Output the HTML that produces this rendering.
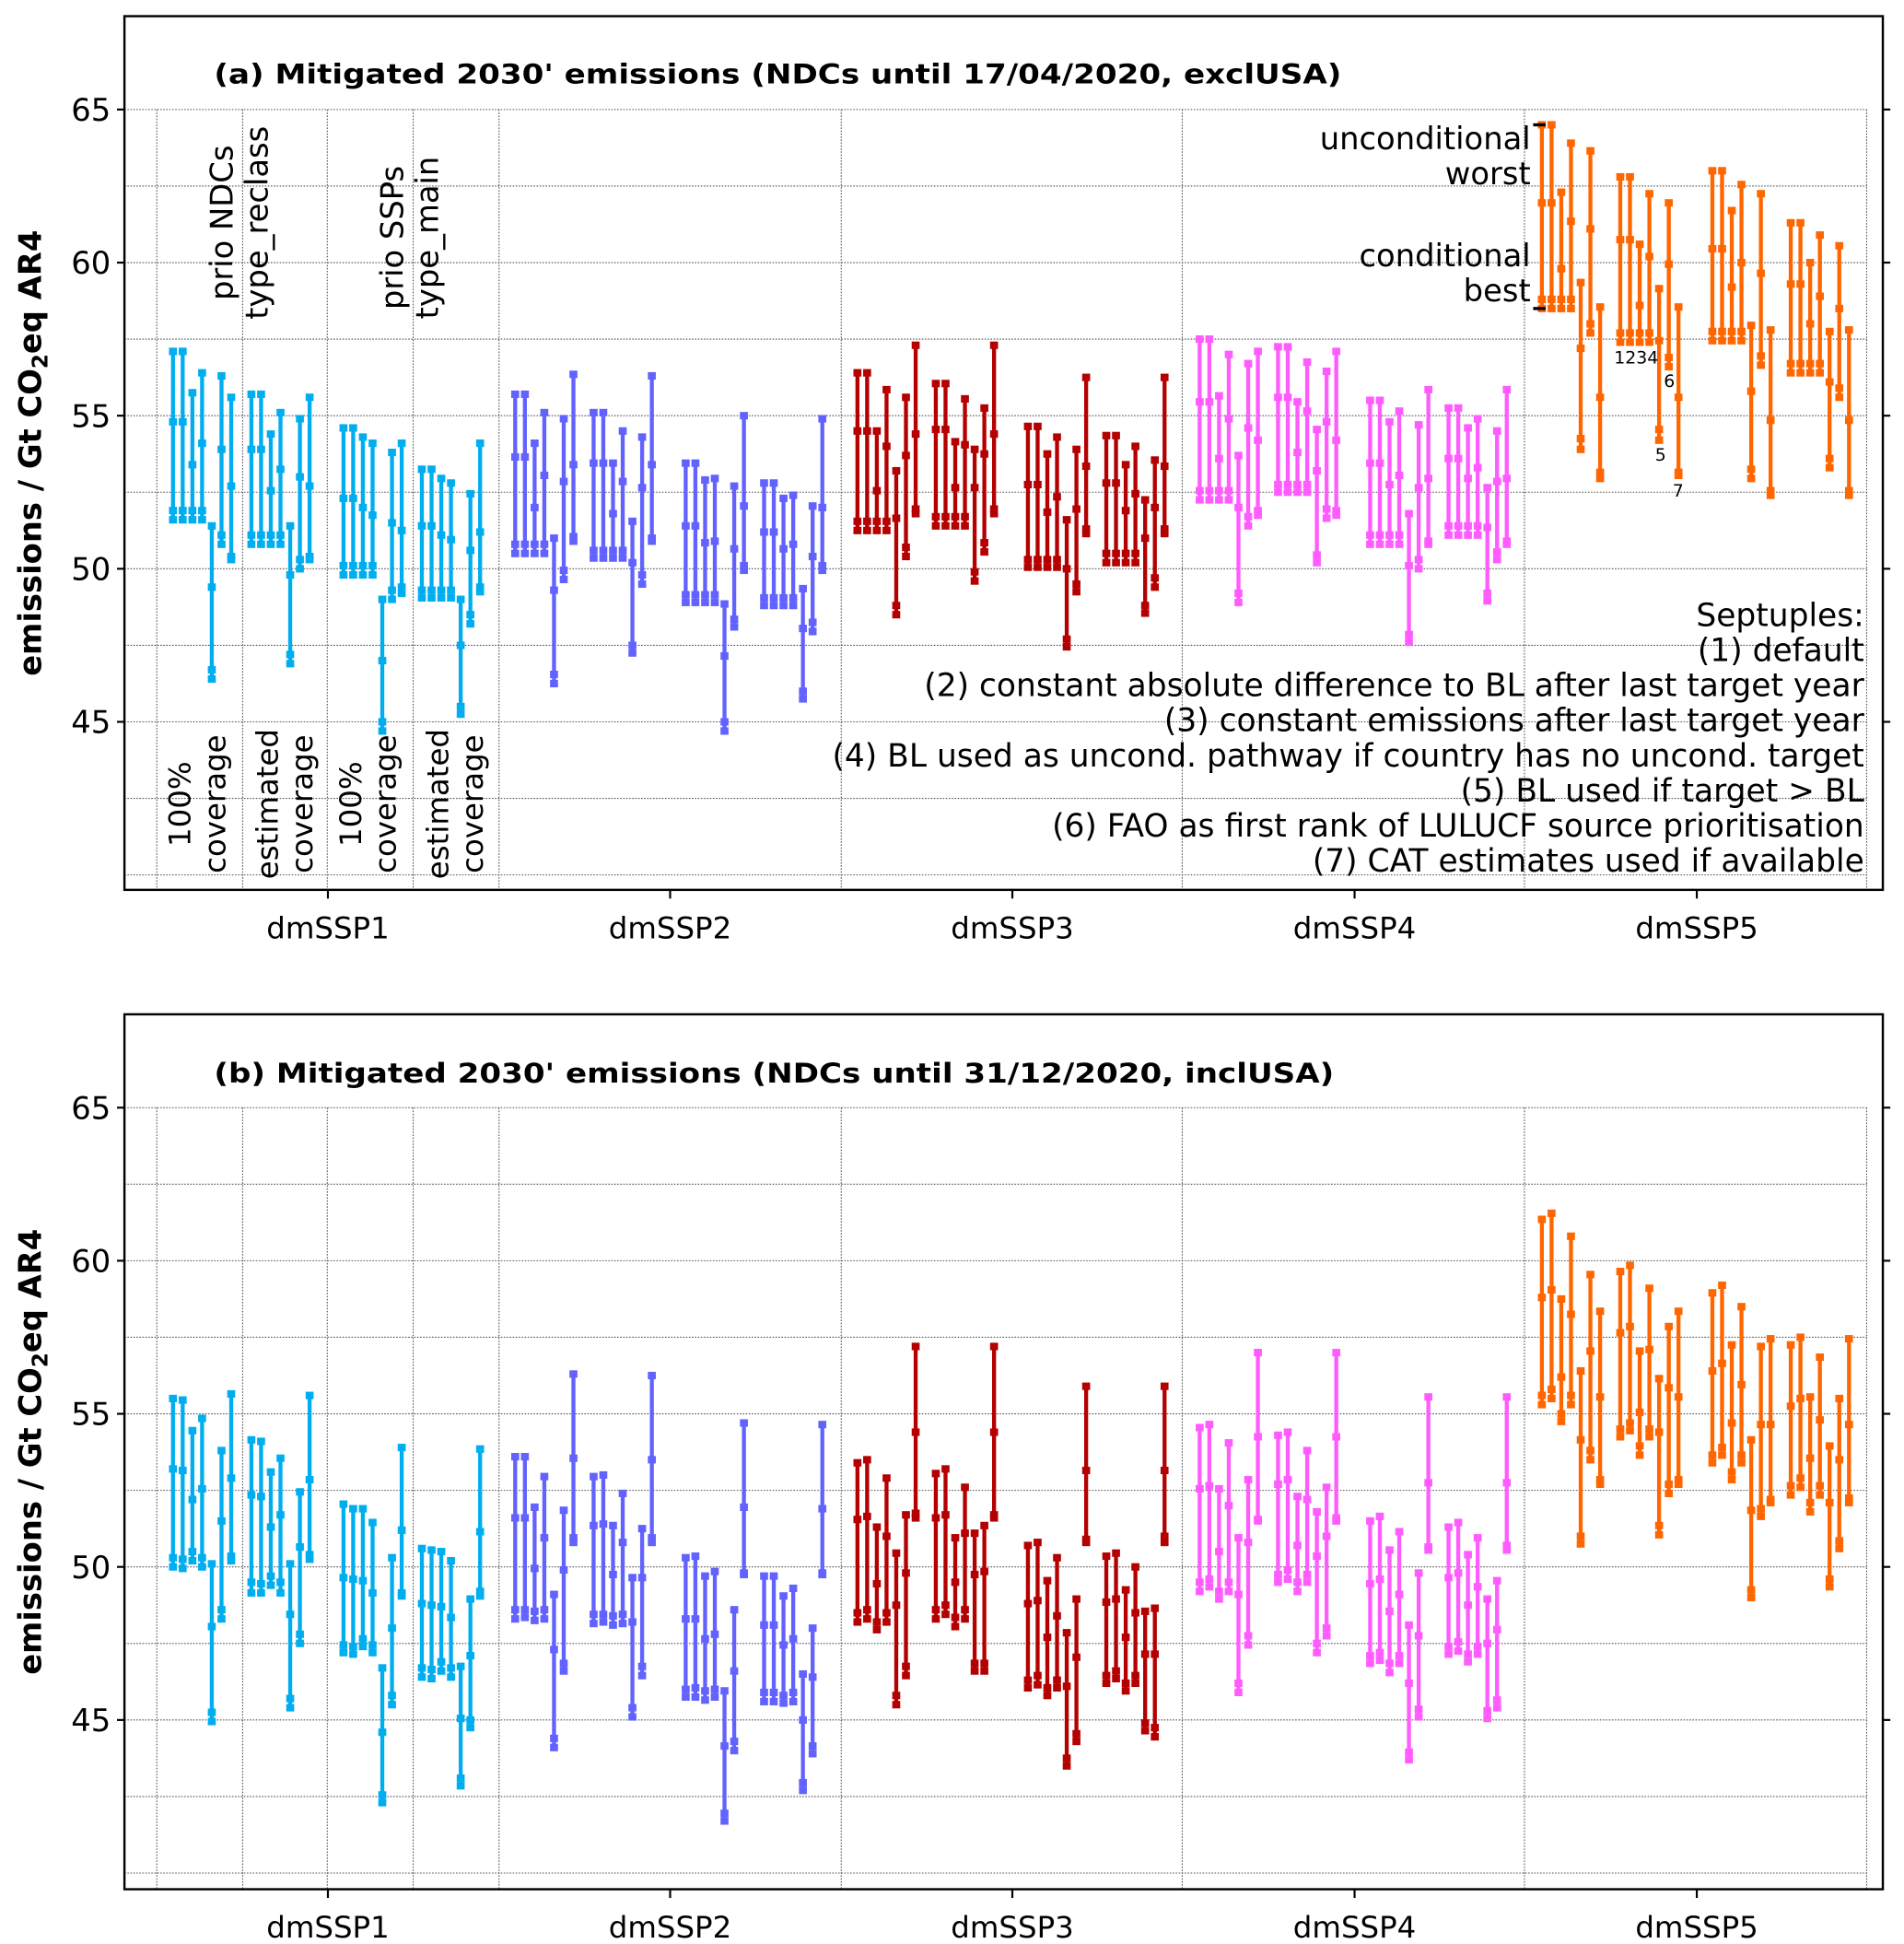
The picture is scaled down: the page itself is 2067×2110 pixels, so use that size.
<!DOCTYPE html>
<html><head><meta charset="utf-8"><style>
html,body{margin:0;padding:0;background:#fff;}
svg{display:block;}
text{font-family:"DejaVu Sans","Liberation Sans",sans-serif;fill:#000;}
</style></head><body>
<svg id="chart" xmlns="http://www.w3.org/2000/svg" width="2067" height="2110" viewBox="0 0 1530 1562" preserveAspectRatio="none">
<rect x="0" y="0" width="1530" height="1562" fill="#fff"/>
</svg>
<script>
// ---- data (top, mid1, mid2, bottom) per bar, 4 septuples x 7 bars ----
const categories = ["dmSSP1","dmSSP2","dmSSP3","dmSSP4","dmSSP5"];
const yTicks = [65,60,55,50,45];
const aSSP1 = [[57.1,54.8,51.9,51.6],[57.1,54.8,51.9,51.6],[55.75,53.4,51.9,51.6],[56.4,54.1,51.9,51.6],[51.4,49.4,46.7,46.4],[56.3,53.9,51.1,50.8],[55.6,52.7,50.4,50.3],
[55.7,53.9,51.1,50.8],[55.7,53.9,51.1,50.8],[54.4,52.55,51.1,50.8],[55.1,53.25,51.1,50.8],[51.4,49.8,47.2,46.9],[54.9,53.0,50.3,50.0],[55.6,52.7,50.4,50.3],
[54.6,52.3,50.1,49.8],[54.6,52.3,50.1,49.8],[54.3,52.0,50.1,49.8],[54.1,51.75,50.1,49.8],[49.0,47.0,45.0,44.7],[53.8,51.5,49.3,49.0],[54.1,51.25,49.4,49.2],
[53.25,51.4,49.3,49.05],[53.25,51.4,49.3,49.05],[52.95,51.1,49.3,49.05],[52.8,50.95,49.3,49.05],[49.0,47.5,45.5,45.25],[52.45,50.6,48.5,48.2],[54.1,51.2,49.4,49.25]];
const aSSP2 = [[55.7,53.65,50.8,50.5],[55.7,53.65,50.8,50.5],[54.1,52.0,50.8,50.5],[55.1,53.05,50.8,50.5],[51.0,49.3,46.55,46.25],[54.9,52.85,49.95,49.65],[56.35,53.4,51.05,50.9],
[55.1,53.45,50.6,50.35],[55.1,53.45,50.6,50.35],[53.45,51.8,50.6,50.35],[54.5,52.85,50.6,50.35],[51.55,50.2,47.5,47.25],[54.3,52.65,49.8,49.5],[56.3,53.4,51.0,50.9],
[53.45,51.4,49.15,48.9],[53.45,51.4,49.15,48.9],[52.9,50.85,49.15,48.9],[52.95,50.9,49.15,48.9],[48.85,47.15,45.0,44.7],[52.7,50.65,48.35,48.1],[55.0,52.05,50.1,49.95],
[52.8,51.2,49.05,48.8],[52.8,51.2,49.05,48.8],[52.3,50.65,49.05,48.8],[52.4,50.8,49.05,48.8],[49.35,48.05,46.0,45.75],[52.05,50.4,48.25,47.95],[54.9,52.0,50.1,49.95]];
const aSSP3 = [[56.4,54.5,51.55,51.25],[56.4,54.5,51.55,51.25],[54.5,52.55,51.55,51.25],[55.85,54.0,51.55,51.25],[53.2,51.65,48.8,48.5],[55.6,53.7,50.7,50.4],[57.3,54.4,51.95,51.8],
[56.05,54.55,51.7,51.4],[56.05,54.55,51.7,51.4],[54.15,52.65,51.7,51.4],[55.55,54.05,51.7,51.4],[53.9,52.65,49.9,49.6],[55.25,53.75,50.85,50.55],[57.3,54.4,51.95,51.8],
[54.65,52.75,50.3,50.05],[54.65,52.75,50.3,50.05],[53.75,51.85,50.3,50.05],[54.3,52.35,50.3,50.05],[51.6,50.0,47.7,47.45],[53.9,51.95,49.5,49.25],[56.25,53.35,51.3,51.15],
[54.35,52.8,50.5,50.2],[54.35,52.8,50.5,50.2],[53.4,51.9,50.5,50.2],[54.0,52.45,50.5,50.2],[52.25,51.0,48.8,48.55],[53.55,52.0,49.7,49.4],[56.25,53.35,51.3,51.15]];
const aSSP4 = [[57.5,55.45,52.55,52.25],[57.5,55.45,52.55,52.25],[55.65,53.6,52.55,52.25],[57.0,54.9,52.55,52.25],[53.7,52.0,49.2,48.9],[56.7,54.6,51.7,51.4],[57.1,54.2,51.9,51.75],
[57.25,55.6,52.75,52.5],[57.25,55.6,52.75,52.5],[55.45,53.8,52.75,52.5],[56.75,55.15,52.75,52.5],[54.55,53.2,50.45,50.2],[56.45,54.8,51.95,51.65],[57.1,54.2,51.9,51.75],
[55.5,53.45,51.1,50.8],[55.5,53.45,51.1,50.8],[54.8,52.75,51.1,50.8],[55.15,53.05,51.1,50.8],[51.8,50.1,47.85,47.6],[54.7,52.65,50.3,50.0],[55.85,52.95,50.9,50.8],
[55.25,53.6,51.4,51.1],[55.25,53.6,51.4,51.1],[54.6,52.95,51.4,51.1],[54.9,53.3,51.4,51.1],[52.65,51.35,49.2,48.95],[54.5,52.85,50.55,50.3],[55.85,52.95,50.9,50.8]];
const aSSP5 = [[64.5,61.95,58.8,58.5],[64.5,61.95,58.8,58.5],[62.3,59.8,58.8,58.5],[63.9,61.35,58.8,58.5],[59.35,57.2,54.25,53.9],[63.65,61.1,58.0,57.7],[58.55,55.6,53.15,52.95],
[62.8,60.75,57.7,57.4],[62.8,60.75,57.7,57.4],[60.6,58.6,57.7,57.4],[62.25,60.2,57.7,57.4],[59.15,57.45,54.55,54.2],[61.95,59.95,56.9,56.6],[58.55,55.6,53.15,53.05],
[63.0,60.45,57.75,57.45],[63.0,60.45,57.75,57.45],[61.7,59.2,57.75,57.45],[62.55,60.0,57.75,57.45],[57.95,55.8,53.25,52.95],[62.25,59.65,56.95,56.65],[57.8,54.85,52.55,52.4],
[61.3,59.3,56.7,56.4],[61.3,59.3,56.7,56.4],[60.0,58.0,56.7,56.4],[60.9,58.9,56.7,56.4],[57.75,56.1,53.6,53.3],[60.55,58.5,55.9,55.6],[57.8,54.85,52.55,52.4]];
const bSSP1 = [[55.5,53.2,50.3,50.0],[55.45,53.15,50.25,49.95],[54.45,52.2,50.5,50.2],[54.85,52.55,50.3,50.0],[50.1,48.05,45.25,44.95],[53.8,51.5,48.6,48.3],[55.65,52.9,50.35,50.2],
[54.15,52.35,49.5,49.15],[54.1,52.3,49.45,49.15],[53.1,51.3,49.7,49.4],[53.55,51.7,49.5,49.15],[50.1,48.45,45.7,45.4],[52.45,50.65,47.8,47.5],[55.6,52.85,50.4,50.25],
[52.05,49.65,47.45,47.2],[51.9,49.6,47.4,47.15],[51.9,49.55,47.65,47.4],[51.45,49.15,47.45,47.2],[46.7,44.6,42.55,42.3],[50.3,48.0,45.8,45.5],[53.9,51.2,49.15,49.05],
[50.6,48.8,46.7,46.4],[50.55,48.75,46.65,46.35],[50.5,48.7,46.9,46.6],[50.2,48.35,46.7,46.4],[46.75,45.05,43.1,42.85],[48.95,47.1,45.0,44.75],[53.85,51.15,49.2,49.05]];
const bSSP2 = [[53.6,51.6,48.6,48.3],[53.6,51.6,48.6,48.35],[51.95,49.95,48.55,48.25],[52.95,50.95,48.6,48.3],[49.1,47.3,44.4,44.1],[51.85,49.9,46.85,46.6],[56.3,53.55,50.95,50.8],
[52.95,51.35,48.45,48.15],[53.0,51.4,48.45,48.2],[51.35,49.75,48.4,48.1],[52.4,50.8,48.45,48.15],[49.65,48.2,45.4,45.1],[51.25,49.65,46.75,46.45],[56.25,53.5,50.95,50.8],
[50.3,48.3,46.0,45.75],[50.35,48.3,46.05,45.75],[49.7,47.65,45.95,45.65],[49.85,47.8,46.0,45.75],[45.95,44.15,41.95,41.7],[48.6,46.6,44.3,44.0],[54.7,51.95,49.8,49.75],
[49.7,48.1,45.9,45.6],[49.7,48.1,45.9,45.6],[49.05,47.45,45.8,45.55],[49.3,47.65,45.9,45.6],[46.5,45.0,42.95,42.7],[48.0,46.4,44.15,43.9],[54.65,51.9,49.8,49.75]];
const bSSP3 = [[53.4,51.55,48.5,48.2],[53.5,51.65,48.6,48.3],[51.3,49.45,48.2,47.95],[52.9,51.0,48.5,48.2],[50.45,48.75,45.8,45.5],[51.7,49.8,46.75,46.45],[57.2,54.4,51.75,51.6],
[53.05,51.6,48.6,48.3],[53.2,51.7,48.75,48.45],[50.95,49.5,48.35,48.05],[52.6,51.1,48.6,48.3],[51.1,49.75,46.85,46.6],[51.35,49.85,46.85,46.6],[57.2,54.4,51.7,51.6],
[50.7,48.8,46.3,46.05],[50.8,48.9,46.45,46.15],[49.55,47.7,46.05,45.8],[50.3,48.4,46.3,46.05],[47.85,46.1,43.75,43.5],[48.95,47.05,44.55,44.3],[55.9,53.15,50.9,50.8],
[50.35,48.85,46.45,46.2],[50.45,48.95,46.6,46.35],[49.25,47.7,46.2,45.95],[50.0,48.5,46.45,46.2],[48.55,47.15,44.9,44.65],[48.65,47.15,44.75,44.45],[55.9,53.15,51.0,50.8]];
const bSSP4 = [[54.55,52.55,49.5,49.2],[54.65,52.65,49.6,49.35],[52.55,50.5,49.2,48.95],[54.05,52.0,49.5,49.2],[50.95,49.1,46.2,45.9],[52.85,50.8,47.75,47.45],[57.0,54.25,51.55,51.5],
[54.3,52.7,49.75,49.5],[54.4,52.85,49.9,49.6],[52.3,50.7,49.5,49.2],[53.8,52.2,49.75,49.5],[51.8,50.35,47.5,47.2],[52.6,51.0,48.0,47.75],[57.0,54.25,51.6,51.5],
[51.5,49.45,47.1,46.85],[51.65,49.6,47.2,46.95],[50.55,48.55,46.85,46.55],[51.15,49.1,47.1,46.85],[48.1,46.2,43.95,43.7],[49.8,47.75,45.35,45.1],[55.55,52.75,50.65,50.55],
[51.3,49.65,47.4,47.15],[51.45,49.8,47.55,47.25],[50.4,48.75,47.15,46.9],[50.95,49.35,47.4,47.15],[48.95,47.5,45.3,45.05],[49.55,47.95,45.65,45.4],[55.55,52.75,50.7,50.55]];
const bSSP5 = [[61.35,58.8,55.6,55.3],[61.55,59.05,55.8,55.5],[58.75,56.2,55.0,54.75],[60.8,58.25,55.6,55.3],[56.4,54.15,51.0,50.75],[59.55,57.05,53.8,53.5],[58.35,55.55,52.85,52.7],
[59.65,57.65,54.5,54.25],[59.85,57.85,54.7,54.45],[57.05,55.05,53.95,53.65],[59.1,57.1,54.5,54.25],[56.15,54.4,51.35,51.05],[57.85,55.85,52.7,52.4],[58.35,55.55,52.85,52.7],
[58.95,56.4,53.65,53.4],[59.2,56.65,53.9,53.65],[57.25,54.7,53.1,52.85],[58.5,55.95,53.65,53.4],[54.15,51.85,49.25,49.0],[57.2,54.65,51.9,51.65],[57.45,54.65,52.2,52.1],
[57.25,55.25,52.65,52.35],[57.5,55.5,52.9,52.6],[55.55,53.55,52.1,51.8],[56.85,54.8,52.65,52.35],[53.95,52.1,49.6,49.35],[55.5,53.5,50.85,50.6],[57.45,54.65,52.25,52.1]];
const colors = ["#00aeef","#6262ff","#b40000","#ff5cff","#ff6600"];

const NS="http://www.w3.org/2000/svg";
const svg=document.getElementById('chart');
function mk(tag,attrs,parent){const e=document.createElementNS(NS,tag);for(const k in attrs)e.setAttribute(k,attrs[k]);(parent||svg).appendChild(e);return e;}
function txt(s,attrs,parent){const e=mk('text',attrs,parent);e.textContent=s;return e;}

const PX=24.6;
const panels=[{top:13,bottom:715,y65:88,data:[aSSP1,aSSP2,aSSP3,aSSP4,aSSP5],
  title:"(a) Mitigated 2030' emissions (NDCs until 17/04/2020, exclUSA)",tb:67,tl:906,name:'panel-a'},
 {top:815,bottom:1518,y65:890,data:[bSSP1,bSSP2,bSSP3,bSSP4,bSSP5],
  title:"(b) Mitigated 2030' emissions (NDCs until 31/12/2020, inclUSA)",tb:870,tl:900,name:'panel-b'}];
const L=100,R=1513;
const sOff=[13,76,150,213];
function xPos(g,s,i){return 126+275*g+sOff[s]+7.8*i;}

panels.forEach((p,pi)=>{
  const yS=v=>p.y65+(65-v)*PX;
  const g=mk('g',{});
  
  
  for(let v=65;v>=40;v-=2.5){
    const l=mk('line',{x1:L,x2:1500,y1:yS(v),y2:yS(v),stroke:'#555','stroke-width':0.8,'stroke-dasharray':'1.2,1.2'},g);
    
    
  }
  [126,195,263,332,401,676,950,1225,1500].forEach(x=>{
    const l=mk('line',{x1:x,x2:x,y1:yS(65),y2:p.bottom,stroke:'#555','stroke-width':0.8,'stroke-dasharray':'1.2,1.2'},g);
    
    
  });
  p.data.forEach((arr,gi)=>{
    arr.forEach((vals,k)=>{
      const s=Math.floor(k/7),i=k%7,x=xPos(gi,s,i);
      const hi=Math.max(...vals),lo=Math.min(...vals);
      const bar=mk('line',{x1:x,x2:x,y1:yS(hi),y2:yS(lo),stroke:colors[gi],'stroke-width':3.2},g);
      
      
      vals.forEach(v=>{
        const m=mk('rect',{x:x-3.2,y:yS(v)-3,width:6.4,height:6,fill:colors[gi]},g);
        
        
      });
    });
  });
  const box=mk('rect',{x:L,y:p.top,width:R-L,height:p.bottom-p.top,fill:'none',stroke:'#000','stroke-width':1.8},g);
  
  
  yTicks.forEach(v=>{
    mk('line',{x1:L-6,x2:L,y1:yS(v),y2:yS(v),stroke:'#000','stroke-width':1.6},g);
    mk('line',{x1:R,x2:R+6,y1:yS(v),y2:yS(v),stroke:'#000','stroke-width':1.6},g);
    const t=txt(String(v),{x:L-11,y:yS(v)+9,'text-anchor':'end','font-size':25},g);
    
    
  });
  categories.forEach((c,gi)=>{
    const cx=263.5+275*gi;
    mk('line',{x1:cx,x2:cx,y1:p.bottom,y2:p.bottom+7,stroke:'#000','stroke-width':1.6},g);
    const t=txt(c,{x:cx,y:p.bottom+39,'text-anchor':'middle','font-size':24},g);
    
    
  });
  const ti=txt(p.title,{x:172,y:p.tb,'font-size':22,'font-weight':'bold',textLength:p.tl,lengthAdjust:'spacingAndGlyphs'},g);
  
  
  const cy=(p.top+p.bottom)/2;
  const yl=mk('text',{x:0,y:0,transform:`translate(33,${cy}) rotate(-90)`,'text-anchor':'middle','font-size':25,'font-weight':'bold'},g);
  
  
  yl.innerHTML='emissions / Gt CO<tspan font-size="17" dy="5">2</tspan><tspan dy="-5">eq AR4</tspan>';
});

function rtext(s,x,y,name,fs){const t=txt(s,{x:0,y:0,transform:`translate(${x},${y}) rotate(-90)`,'text-anchor':'middle','font-size':fs||25});
  
  }
rtext('prio NDCs',187,179,'prio-ndcs-label');
rtext('type_reclass',215,179,'type-reclass-label');
rtext('prio SSPs',324,191,'prio-ssps-label');
rtext('type_main',352,191,'type-main-label');
[[153,'100%'],[181,'coverage'],[223,'estimated'],[251,'coverage'],[290,'100%'],[318,'coverage'],[360,'estimated'],[388,'coverage']].forEach(([x,s])=>rtext(s,x,646,'coverage-label',24));

function lab(s,x,y,fs,anchor,name,tl){const a={x:x,y:y,'font-size':fs,'text-anchor':anchor};if(tl){a.textLength=tl;a.lengthAdjust='spacingAndGlyphs';}
  const t=txt(s,a);}
lab('unconditional',1230,120,25,'end','legend-unconditional');
lab('worst',1230,148,25,'end','legend-worst');
lab('conditional',1230,214,25,'end','legend-conditional');
lab('best',1230,242,25,'end','legend-best');
{const yS=v=>88+(65-v)*PX, x=xPos(4,0,0);
 [aSSP5[0][0],aSSP5[0][3]].forEach(v=>mk('line',{x1:x-7,x2:x+3,y1:yS(v),y2:yS(v),stroke:'#000','stroke-width':2.5}));}
lab('1234',1297,292,14,'start','septuple-index-1234');
lab('5',1330,370,14,'start','septuple-index-5');
lab('6',1337,311,14,'start','septuple-index-6');
lab('7',1344,399,14,'start','septuple-index-7');
const leg=['Septuples:','(1) default','(2) constant absolute difference to BL after last target year',
'(3) constant emissions after last target year','(4) BL used as uncond. pathway if country has no uncond. target',
'(5) BL used if target > BL','(6) FAO as first rank of LULUCF source prioritisation','(7) CAT estimates used if available'];
leg.forEach((s,i)=>lab(s,1498,503+28.2*i,25.5,'end','septuples-legend-line'));
</script>
</body></html>
